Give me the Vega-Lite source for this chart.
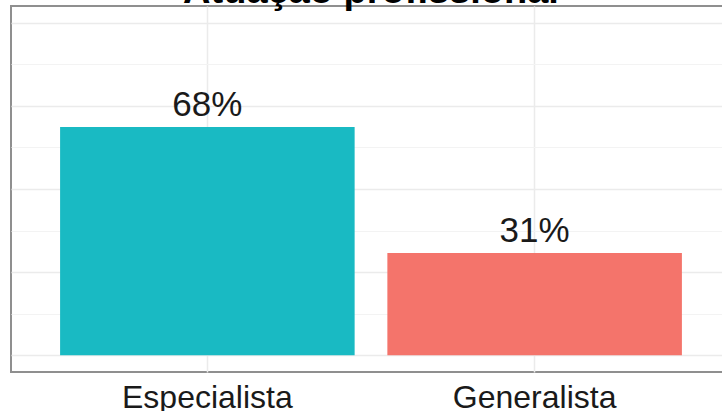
{
  "$schema": "https://vega.github.io/schema/vega-lite/v6.json",
  "width": 720,
  "height": 366,
  "autosize": {"type": "none"},
  "padding": {"left": 11, "top": 6, "right": 0, "bottom": 39},
  "background": "white",
  "title": {
    "text": "Atuação profissional",
    "font": "Liberation Sans",
    "fontSize": 38,
    "fontWeight": "bold",
    "color": "#000000",
    "anchor": "middle",
    "baseline": "alphabetic",
    "offset": 3,
    "dy": 38
  },
  "config": {
    "view": {"stroke": "#8f8f8f", "strokeWidth": 2},
    "font": "Liberation Sans"
  },
  "data": {
    "values": [
      {"categoria": "Especialista", "valor": 68.6, "rotulo": "68%"},
      {"categoria": "Generalista", "valor": 30.8, "rotulo": "31%"}
    ]
  },
  "encoding": {
    "x": {
      "field": "categoria",
      "type": "nominal",
      "sort": ["Especialista", "Generalista"],
      "scale": {"paddingInner": 0.1, "paddingOuter": 0.15},
      "axis": {
        "title": null,
        "labelAngle": 0,
        "labelFont": "Liberation Sans",
        "labelFontSize": 32,
        "labelColor": "#1a1a1a",
        "labelBaseline": "alphabetic",
        "labelPadding": 35,
        "ticks": false,
        "domain": false,
        "grid": true,
        "bandPosition": 0.5,
        "gridColor": "#ebebeb",
        "gridWidth": 1.5
      }
    }
  },
  "layer": [
    {
      "mark": {"type": "bar"},
      "encoding": {
        "y": {
          "field": "valor",
          "type": "quantitative",
          "scale": {"domain": [-5, 105], "nice": false, "zero": false},
          "axis": {
            "title": null,
            "labels": false,
            "ticks": false,
            "domain": false,
            "values": [0, 25, 50, 75, 100],
            "grid": true,
            "gridColor": "#ebebeb",
            "gridWidth": 1.5
          }
        },
        "color": {
          "field": "categoria",
          "type": "nominal",
          "scale": {"domain": ["Especialista", "Generalista"], "range": ["#19bac3", "#f4746b"]},
          "legend": null
        }
      }
    },
    {
      "mark": {"type": "text", "font": "Liberation Sans", "fontSize": 35, "color": "#1a1a1a", "baseline": "alphabetic", "dy": -11},
      "encoding": {
        "y": {
          "field": "valor",
          "type": "quantitative",
          "scale": {"domain": [-5, 105], "nice": false, "zero": false},
          "axis": {
            "orient": "right",
            "title": null,
            "labels": false,
            "ticks": false,
            "domain": false,
            "values": [12.5, 37.5, 62.5, 87.5],
            "grid": true,
            "gridColor": "#f3f3f3",
            "gridWidth": 1
          }
        },
        "text": {"field": "rotulo"}
      }
    }
  ],
  "resolve": {"axis": {"y": "independent"}}
}
